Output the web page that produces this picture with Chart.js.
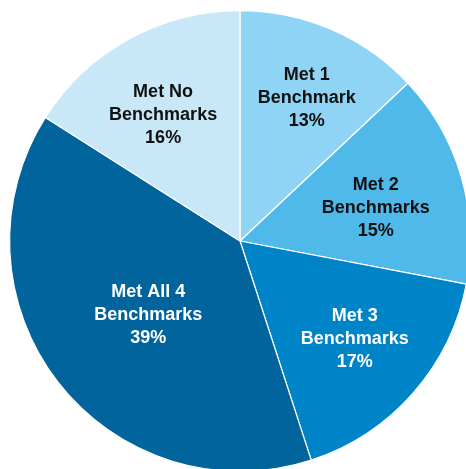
<!DOCTYPE html>
<html>
<head>
<meta charset="utf-8">
<script src="https://cdn.jsdelivr.net/npm/chart.js@4"></script>
<style>
  html, body { margin: 0; padding: 0; background: #fff; overflow: hidden; }
  #wrap { position: absolute; left: 0; top: 0; width: 480px; height: 482px; }
</style>
</head>
<body>
<div id="wrap"><canvas id="pie"></canvas></div>
<script>
// data
const categories = ['Met 1|Benchmark', 'Met 2|Benchmarks', 'Met 3|Benchmarks', 'Met All 4|Benchmarks', 'Met No|Benchmarks'];
const shares = [13, 15, 17, 39, 16];
const sliceColors = ['#8fd4f4', '#4fb9e9', '#0084c8', '#02649d', '#c8e8f8'];
const textColors = ['#111', '#111', '#fff', '#fff', '#111'];
// label placement: fraction of radius, and fraction along the slice's sweep
const labelReach = [0.691, 0.608, 0.649, 0.506, 0.647];
const labelSweep = [0.53, 0.533, 0.475, 0.498, 0.461];

const sliceLabels = {
  id: 'sliceLabels',
  afterDatasetsDraw(chart) {
    const { ctx } = chart;
    const arcs = chart.getDatasetMeta(0).data;
    ctx.save();
    ctx.font = 'bold 18px "Liberation Sans", Arial, sans-serif';
    ctx.textAlign = 'center';
    ctx.textBaseline = 'middle';
    arcs.forEach((arc, i) => {
      const { x, y, startAngle, endAngle, outerRadius } = arc.getProps(['x', 'y', 'startAngle', 'endAngle', 'outerRadius'], true);
      const a = startAngle + (endAngle - startAngle) * labelSweep[i];
      const r = outerRadius * labelReach[i];
      const cx = x + Math.cos(a) * r;
      const cy = y + Math.sin(a) * r + 2;
      const lines = categories[i].split('|').concat(shares[i] + '%');
      ctx.fillStyle = textColors[i];
      lines.forEach((ln, k) => ctx.fillText(ln, cx, cy + (k - 1) * 23));
    });
    ctx.restore();
  }
};

new Chart(document.getElementById('pie'), {
  type: 'pie',
  data: {
    labels: categories.map(c => c.replace('|', ' ')),
    datasets: [{
      data: shares,
      backgroundColor: sliceColors,
      borderColor: '#fff',
      borderWidth: 1.2
    }]
  },
  options: {
    responsive: true,
    maintainAspectRatio: false,
    animation: false,
    layout: { padding: 9 },
    plugins: { legend: { display: false }, tooltip: { enabled: false } }
  },
  plugins: [sliceLabels]
});
</script>
</body>
</html>
